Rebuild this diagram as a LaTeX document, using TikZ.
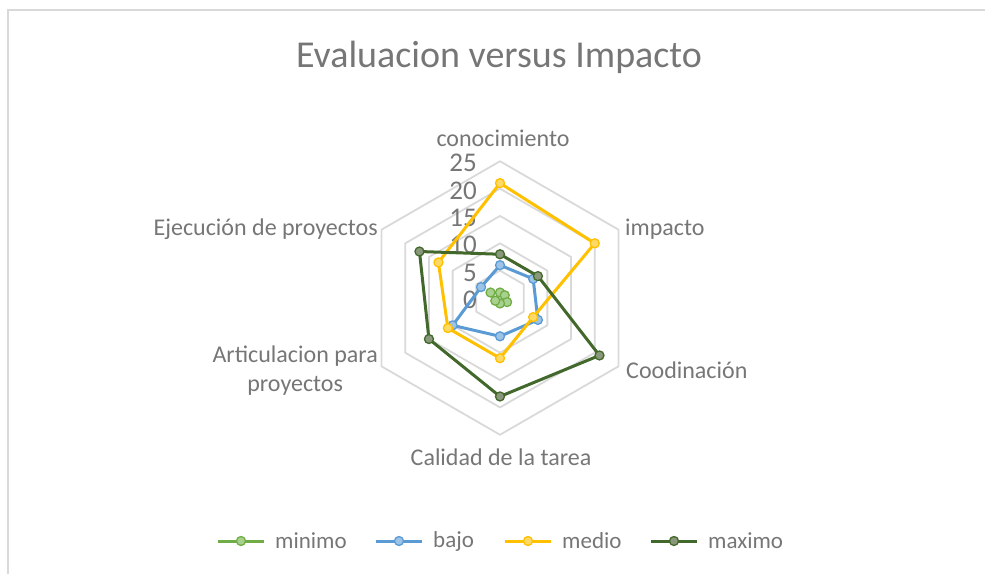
\documentclass[tikz,border=0pt]{standalone}
\usepackage{fontspec}
\setmainfont{Carlito}
\usepackage{xcolor}
\usetikzlibrary{calc}
\definecolor{txtgray}{RGB}{118,118,118}
\definecolor{gridgray}{RGB}{217,217,217}
\definecolor{minc}{RGB}{112,173,71}
\definecolor{minf}{RGB}{169,209,142}
\definecolor{bajc}{RGB}{91,155,213}
\definecolor{bajf}{RGB}{157,195,230}
\definecolor{medc}{RGB}{255,192,0}
\definecolor{medf}{RGB}{255,217,102}
\definecolor{maxc}{RGB}{67,104,43}
\definecolor{maxf}{RGB}{137,152,122}
\newcommand{\unitr}{5.47}
\newcommand{\hexring}[1]{\draw[gridln] (90:#1*\unitr) -- (30:#1*\unitr) -- (-30:#1*\unitr) -- (-90:#1*\unitr) -- (-150:#1*\unitr) -- (150:#1*\unitr) -- cycle;}
\newcommand{\radar}[7]{\draw[#1] plot coordinates {(90:#2*\unitr) (30:#3*\unitr) (-30:#4*\unitr) (-90:#5*\unitr) (-150:#6*\unitr) (150:#7*\unitr)} -- cycle;}
\newcommand{\legitem}[4]{\coordinate (#1a) at (#2,-541); \coordinate (#1b) at (#2+46,-541);
  \draw[#3] (#1a) -- (#1b); \draw[#3] plot coordinates {($(#1a)!0.5!(#1b)$)};
  \node[leglbl] (#1t) at ($(#1b)+(11,0)$) {#4};}

\begin{document}
\begin{tikzpicture}[x=1pt,y=1pt,
    gridln/.style={draw=gridgray,line width=1.8pt,line join=round},
    frameln/.style={draw=gridgray,line width=2pt},
    txt/.style={text=txtgray,inner sep=0pt},
    axlbl/.style={txt,font=\fontsize{24}{29}\selectfont},
    ticklbl/.style={txt,font=\fontsize{27}{30}\selectfont,anchor=east},
    leglbl/.style={txt,font=\fontsize{23}{28}\selectfont,anchor=west},
    sermin/.style={draw=minc,line width=3pt,line join=round,mark=*,mark size=4.5,mark options={draw=minc,fill=minf,line width=1.3pt}},
    serbaj/.style={draw=bajc,line width=3pt,line join=round,mark=*,mark size=4.5,mark options={draw=bajc,fill=bajf,line width=1.3pt}},
    sermed/.style={draw=medc,line width=3pt,line join=round,mark=*,mark size=4.5,mark options={draw=medc,fill=medf,line width=1.3pt}},
    sermax/.style={draw=maxc,line width=3pt,line join=round,mark=*,mark size=4.5,mark options={draw=maxc,fill=maxf,line width=1.3pt}}]
  \useasboundingbox (0,-574) rectangle (985,0);
  \draw[frameln] (8,-574) -- (8,-10) -- (985,-10);

  \node[txt,font=\fontsize{38}{44}\selectfont,anchor=base] (title) at (499,-67) {Evaluacion versus Impacto};

  % radar
  \begin{scope}[shift={(500,-298)}]
    \hexring{5}
    \hexring{10}
    \hexring{15}
    \hexring{20}
    \hexring{25}

    \node[ticklbl] (t0) at (-23,-2) {0};
    \node[ticklbl] (t5) at (-23,5*\unitr-2) {5};
    \node[ticklbl] (t10) at (-23,10*\unitr-2) {10};
    \node[ticklbl] (t15) at (-23,15*\unitr-2) {15};
    \node[ticklbl] (t20) at (-23,20*\unitr-2) {20};
    \node[ticklbl] (t25) at (-23,25*\unitr-2) {25};

    \radar{sermin}{1}{1}{1.5}{1}{1}{2}
    \radar{serbaj}{6}{7}{8}{7}{10}{4}
    \radar{sermed}{21}{20}{7}{11}{11}{13}
    \radar{sermax}{8}{8}{21}{18}{15}{17}
  \end{scope}

  \node[axlbl,anchor=base] (conoc) at (503,-146) {conocimiento};
  \node[axlbl,anchor=base west] (impac) at (625,-235) {impacto};
  \node[axlbl,anchor=base west] (coord) at (626,-378) {Coodinación};
  \node[axlbl,anchor=base] (calid) at (501,-465) {Calidad de la tarea};
  \node[axlbl,anchor=east,align=center] (artic) at (378,-371) {Articulacion para\\proyectos};
  \node[axlbl,anchor=base east] (ejecu) at (378,-235) {Ejecución de proyectos};

  % legend
  \legitem{lmin}{218}{sermin}{minimo}
  \legitem{lbaj}{376}{serbaj}{bajo}
  \legitem{lmed}{505}{sermed}{medio}
  \legitem{lmax}{651}{sermax}{maximo}
\end{tikzpicture}
\end{document}
